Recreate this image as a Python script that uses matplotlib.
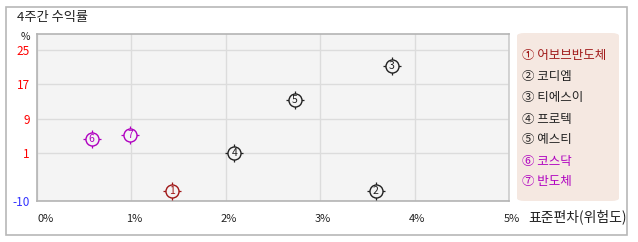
import matplotlib
matplotlib.use("Agg")
import matplotlib.pyplot as plt
from matplotlib.patches import Rectangle, FancyBboxPatch
import matplotlib.transforms as mtransforms

plt.rcParams['font.family'] = ['Noto Sans CJK KR', 'DejaVu Sans']

# ---- data ----
names = ["어보브반도체", "코디엠", "티에스이", "프로텍", "예스티", "코스닥", "반도체"]
marks = ["①", "②", "③", "④", "⑤", "⑥", "⑦"]
std_dev = [1.43, 3.59, 3.76, 2.09, 2.73, 0.58, 0.99]      # x, %
returns = [-7.7, -7.7, 21.3, 1.0, 13.3, 4.4, 5.3]          # y, %
colors = ["#a01818", "#222222", "#222222", "#222222", "#222222", "#b000c0", "#b000c0"]
x_ticks = [0, 1, 2, 3, 4, 5]
x_labels = ["0%", "1%", "2%", "3%", "4%", "5%"]
y_ticks = [-10, 1, 9, 17, 25]
y_label_colors = ["#3333ff", "red", "red", "red", "red"]

W, H = 638, 242
fig = plt.figure(figsize=(W / 100, H / 100), dpi=100)
fig.patch.set_facecolor("white")

def fx(px): return px / W
def fy(py): return 1 - py / H

# outer border
fig.patches.append(Rectangle((fx(6), fy(235)), fx(627) - fx(6), fy(7) - fy(235),
                             transform=fig.transFigure, fill=False,
                             edgecolor="#b8b8b8", linewidth=1.2))

# legend box
fig.patches.append(FancyBboxPatch((fx(517), fy(201)), fx(619) - fx(517), fy(33) - fy(201),
                                  boxstyle="round,pad=0,rounding_size=0.012",
                                  transform=fig.transFigure, facecolor="#f5e8e1",
                                  edgecolor="none"))

ax = fig.add_axes([fx(37), fy(201), fx(509) - fx(37), fy(34) - fy(201)])
ax.set_facecolor("#f4f4f4")
ax.set_xlim(0, 5)
ax.set_ylim(-10, 28.6)
ax.set_xticks(x_ticks)
ax.set_yticks(y_ticks)
ax.grid(True, color="#dcdcdc", linewidth=1.0)
ax.set_axisbelow(True)
for s in ax.spines.values():
    s.set_color("#b4b4b4")
    s.set_linewidth(1.2)
ax.spines["right"].set_color("#cccccc")
ax.tick_params(length=0)
ax.tick_params(axis="x", pad=9)
ax.tick_params(axis="y", pad=5)
ax.set_xticklabels(x_labels, fontsize=8, color="#222222")
ax.set_yticklabels([str(v) for v in y_ticks], fontsize=8.5)
for lab, c in zip(ax.get_yticklabels(), y_label_colors):
    lab.set_color(c)
shift = mtransforms.ScaledTranslation(2.5 / 100, 0, fig.dpi_scale_trans)
for k, lab in enumerate(ax.get_xticklabels()):
    lab.set_transform(lab.get_transform() + shift)
    if k == 0:
        lab.set_ha("left")
        lab.set_transform(lab.get_transform() + mtransforms.ScaledTranslation(-2.5 / 100, 0, fig.dpi_scale_trans))

for i in range(len(names)):
    ax.scatter(std_dev[i], returns[i], marker="+", s=150, color=colors[i],
               linewidths=0.9, zorder=3, clip_on=False)
    ax.scatter(std_dev[i], returns[i], marker="o", s=88, facecolor="#f4f4f4",
               edgecolor=colors[i], linewidths=1.0, zorder=4, clip_on=False)
    ax.text(std_dev[i], returns[i], str(i + 1), ha="center", va="center",
            fontsize=7.5, color=colors[i], zorder=5)

# texts
fig.text(fx(17), fy(17), "4주간 수익률", fontsize=9.5, color="#222222", va="center", ha="left")
fig.text(fx(25), fy(37), "%", fontsize=7.5, color="#222222", va="center", ha="center")
fig.text(fx(627), fy(217), "표준편차(위험도)", fontsize=10, color="#222222", va="center", ha="right")

leg_y = [55, 76.5, 98, 119, 140, 161, 182]
for i in range(len(names)):
    fig.text(fx(522), fy(leg_y[i]), marks[i] + " " + names[i], fontsize=9,
             color=colors[i], va="center", ha="left")

fig.savefig("out.png", dpi=100, facecolor="white")
